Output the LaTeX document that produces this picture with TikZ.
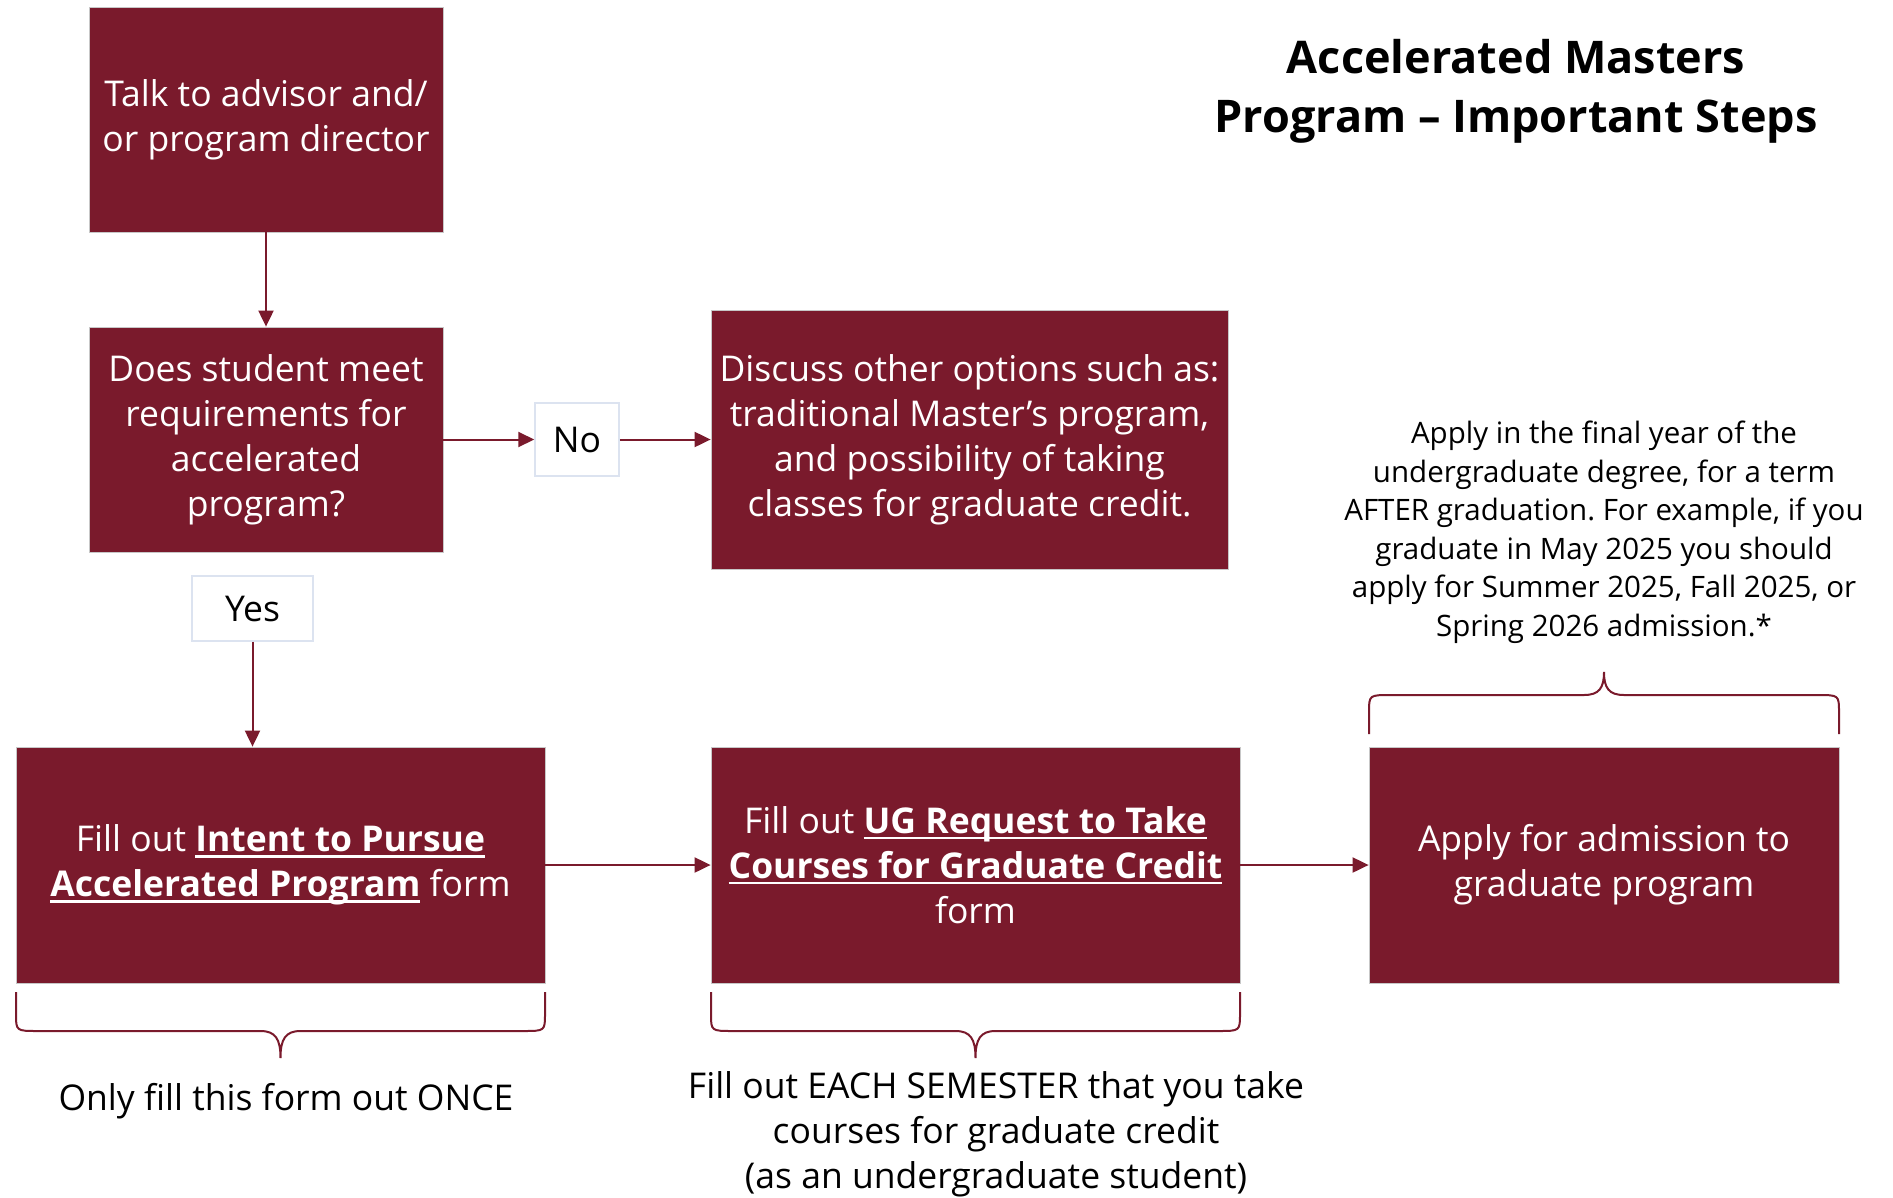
\documentclass[tikz,border=0pt]{standalone}
\usepackage{fontspec}
\setmainfont{Open Sans}
\usetikzlibrary{arrows.meta}
\definecolor{maroon}{HTML}{7A1A2C}
\definecolor{lblborder}{HTML}{DCE3F0}
\frenchspacing
\newcommand\boxfont{\fontsize{35.5}{45}\selectfont}
\newcommand\notefont{\fontsize{29.5}{38.5}\selectfont}
\newcommand\titlefont{\fontsize{45}{59}\selectfont\bfseries}
\newcommand\lk[1]{\leavevmode\setbox0\hbox{\textbf{#1}}\rlap{\rule[-6pt]{\wd0}{2.5pt}}\box0{}}
\newcommand\hbrace[5]{%
 \draw[bracestyle] (#1,#3) -- (#1,{#4+(#3-#4)*0.45})
   .. controls (#1,#4) and (#1,#4) .. ({#1+22},#4)
   -- ({(#1+#2)/2-20},#4)
   .. controls ({(#1+#2)/2-5},#4) and ({(#1+#2)/2},{#4+(#5-#4)*0.3}) .. ({(#1+#2)/2},#5)
   .. controls ({(#1+#2)/2},{#4+(#5-#4)*0.3}) and ({(#1+#2)/2+5},#4) .. ({(#1+#2)/2+20},#4)
   -- ({#2-22},#4)
   .. controls (#2,#4) and (#2,#4) .. (#2,{#4+(#3-#4)*0.45}) -- (#2,#3);}
\begin{document}
\begin{tikzpicture}[x=1pt,y=-1pt,
 stepbox/.style={fill=maroon, draw=black!22, line width=0.8pt, text=white, align=center, font=\boxfont, inner sep=0pt},
 lbl/.style={fill=white, draw=lblborder, line width=1.5pt, text=black, font=\boxfont, inner sep=0pt},
 plain/.style={text=black, align=center, inner sep=0pt},
 arr/.style={draw=maroon, line width=2pt, -{Triangle[length=16pt,width=15pt]}},
 bracestyle/.style={draw=maroon, line width=2pt}]
\useasboundingbox[fill=white] (0,0) rectangle (1893,1197);

\node[plain, font=\titlefont] (title) at (1516,91) {Accelerated Masters\\Program -- Important Steps};

\node[stepbox, minimum width=354, minimum height=225] (talk) at (266,119.5) {Talk to advisor and/\\or program director};
\node[stepbox, minimum width=354, minimum height=225] (meet) at (266,439.5) {Does student meet\\requirements for\\accelerated\\program?};
\node[lbl, minimum width=84, minimum height=73] (no) at (577,439.5) {No};
\node[stepbox, minimum width=517, minimum height=259] (discuss) at (969.5,439.5) {Discuss other options such as:\\traditional Master’s program,\\and possibility of taking\\classes for graduate credit.};
\node[lbl, minimum width=121, minimum height=65] (yes) at (252.5,608.5) {Yes};

\node[stepbox, minimum width=529, minimum height=236] (intent) at (280.5,865) {Fill out \lk{Intent to Pursue}\\\lk{Accelerated Program} form};
\node[stepbox, minimum width=529, minimum height=236] (ugreq) at (975.5,865) {Fill out \lk{UG Request to Take}\\\lk{Courses for Graduate Credit}\\form};
\node[stepbox, minimum width=470, minimum height=236] (apply) at (1604,865) {Apply for admission to\\graduate program};

\node[plain, font=\notefont] (note) at (1604,532) {Apply in the final year of the\\undergraduate degree, for a term\\AFTER graduation. For example, if you\\graduate in May 2025 you should\\apply for Summer 2025, Fall 2025, or\\Spring 2026 admission.*};
\node[plain, font=\boxfont] (once) at (286,1101) {Only fill this form out ONCE};
\node[plain, font=\boxfont] (each) at (996,1134) {Fill out EACH SEMESTER that you take\\courses for graduate credit\\(as an undergraduate student)};

\draw[arr] (talk) -- (meet);
\draw[arr] (meet) -- (no);
\draw[arr] (no) -- (discuss);
\draw[arr] (yes.south) -- (yes.south |- intent.north);
\draw[arr] (intent) -- (ugreq);
\draw[arr] (ugreq) -- (apply);

\hbrace{16}{545}{992}{1031}{1058}
\hbrace{711}{1240}{992}{1031}{1058}
\hbrace{1369}{1839}{734}{695}{672}
\end{tikzpicture}
\end{document}
